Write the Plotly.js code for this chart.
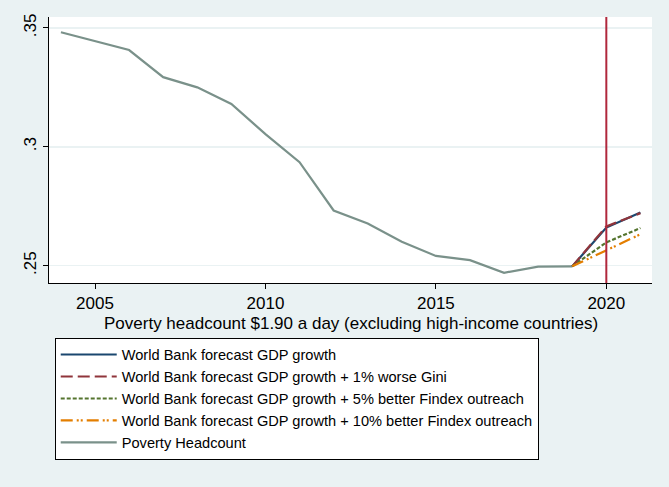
<!DOCTYPE html>
<html>
<head>
<meta charset="utf-8">
<script src="https://cdn.plot.ly/plotly-3.0.1.min.js"></script>
<style>html,body{margin:0;padding:0;background:#eaf2f3;}#chart{width:669px;height:487px;}</style>
</head>
<body>
<div id="chart"></div>
<script>
const years = [2004,2005,2006,2007,2008,2009,2010,2011,2012,2013,2014,2015,2016,2017,2018,2019];
const headcount = [0.3482,0.3445,0.3407,0.3293,0.3250,0.3180,0.3053,0.2935,0.2732,0.2677,0.2601,0.2541,0.2523,0.2470,0.2496,0.2497];
const forecastYears = [2019,2020,2021];
const wbGrowth = [0.2497,0.2660,0.2724];
const worseGini = [0.2497,0.2665,0.2721];
const findex5 = [0.2497,0.2598,0.2658];
const findex10 = [0.2497,0.2566,0.2632];
const yTickVals = [0.25,0.30,0.35];
const yTickText = ['.25','.3','.35'];
const xTickVals = [2005,2010,2015,2020];
const xTitle = 'Poverty headcount $1.90 a day (excluding high-income countries)';
const names = ['World Bank forecast GDP growth','World Bank forecast GDP growth + 1% worse Gini','World Bank forecast GDP growth + 5% better Findex outreach','World Bank forecast GDP growth + 10% better Findex outreach','Poverty Headcount'];
const markerYear = 2020;

const traces = [
  {x: years, y: headcount, name: names[4], mode:'lines', line:{color:'#7a918a', width:2.2}, legendrank:5},
  {x: forecastYears, y: wbGrowth, name: names[0], mode:'lines', line:{color:'#1a476f', width:2.2}, legendrank:1},
  {x: forecastYears, y: worseGini, name: names[1], mode:'lines', line:{color:'#90353b', width:2.2, dash:'12px,5px'}, legendrank:2},
  {x: forecastYears, y: findex5, name: names[2], mode:'lines', line:{color:'#55752f', width:2.2, dash:'4px,2px'}, legendrank:3},
  {x: forecastYears, y: findex10, name: names[3], mode:'lines', line:{color:'#e37e00', width:2.2, dash:'12px,4px,2px,2px,2px,4px'}, legendrank:4}
];

const layout = {
  width: 669, height: 487,
  paper_bgcolor:'#eaf2f3', plot_bgcolor:'#ffffff',
  margin:{l:49, r:17, t:17, b:204},
  font:{family:'"Liberation Sans", Arial, sans-serif', size:15, color:'#000'},
  xaxis:{range:[2003.65,2021.34], tickvals:xTickVals, ticks:'outside', ticklen:5, tickcolor:'#000',
    showline:true, linecolor:'#000', linewidth:1, showgrid:false, zeroline:false,
    tickfont:{size:17}},
  yaxis:{range:[0.2427,0.3546], tickvals:yTickVals, ticktext:yTickText, tickangle:-90, ticks:'outside', ticklen:5, tickcolor:'#000',
    showline:true, linecolor:'#000', linewidth:1, showgrid:true, gridcolor:'#eaf2f3', gridwidth:1.5, zeroline:false,
    tickfont:{size:17}},
  annotations:[{text:xTitle, xref:'paper', yref:'paper', x:0.5, y:-0.154, xanchor:'center', yanchor:'middle', showarrow:false, font:{size:17}}],
  shapes:[{type:'line', xref:'x', yref:'paper', x0:markerYear, x1:markerYear, y0:0, y1:1, line:{color:'#b0283c', width:2}, layer:'above'}],
  showlegend:true,
  legend:{x:0.0095, xanchor:'left', y:-0.205, yanchor:'top', bgcolor:'#ffffff', bordercolor:'#000', borderwidth:1,
    font:{size:14.6}, itemwidth:56, tracegroupgap:0, traceorder:'normal'}
};
Plotly.newPlot('chart', traces, layout, {staticPlot:true});
</script>
</body>
</html>
